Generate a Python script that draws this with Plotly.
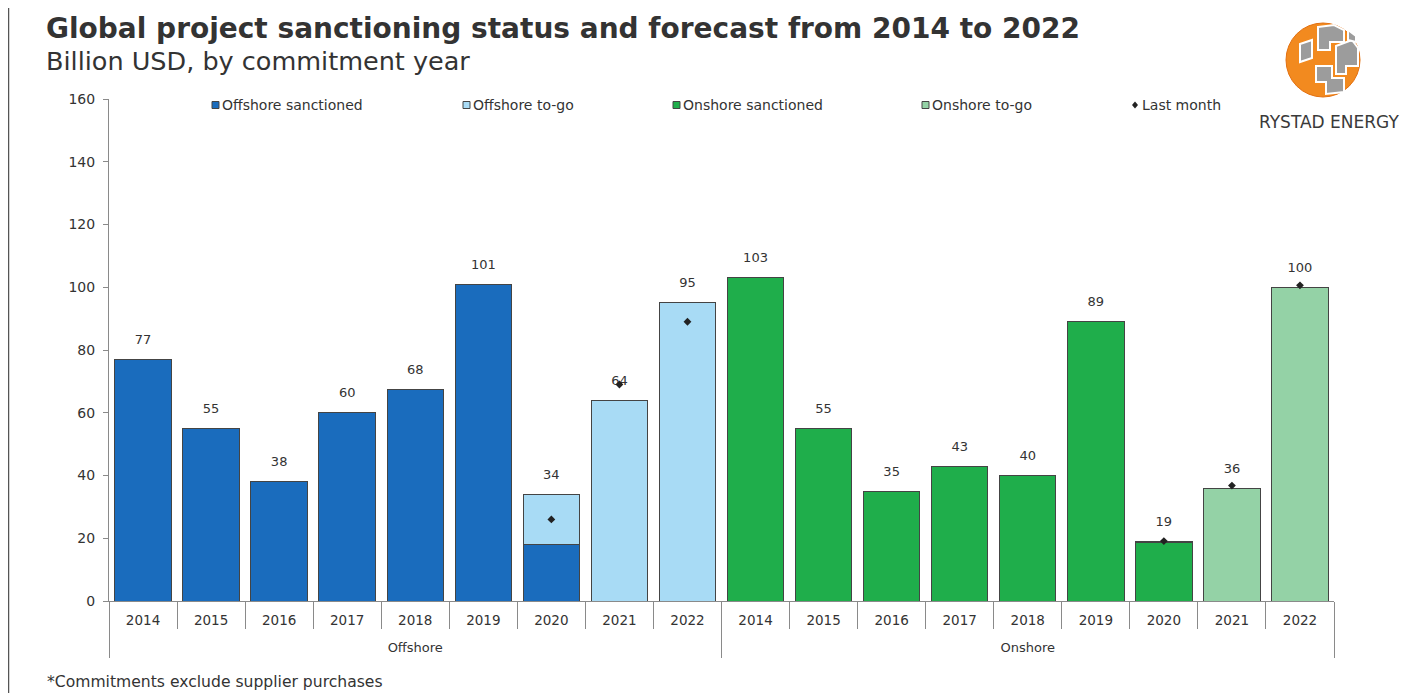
import plotly.graph_objects as go

# ---------------- data ----------------
years = ["2014", "2015", "2016", "2017", "2018", "2019", "2020", "2021", "2022"]
groups = ["Offshore", "Onshore"]
offshore_sanctioned = [77, 55, 38, 60, 67.5, 101, 18, None, None]
offshore_togo = [None, None, None, None, None, None, 16, 64, 95]
onshore_sanctioned = [103, 55, 35, 43, 40, 89, 18.5, None, None]
onshore_togo = [None, None, None, None, None, None, 0.6, 36, 100]
offshore_last_month = [None, None, None, None, None, None, 26, 69, 89]
onshore_last_month = [None, None, None, None, None, None, 19.1, 36.8, 100.6]
offshore_labels = ["77", "55", "38", "60", "68", "101", "34", "64", "95"]
onshore_labels = ["103", "55", "35", "43", "40", "89", "19", "36", "100"]
y_ticks = [0, 20, 40, 60, 80, 100, 120, 140, 160]

# ---------------- styles ----------------
C_OFF_S = "#1a6cbd"
C_OFF_T = "#a8dbf5"
C_ON_S = "#1fae4b"
C_ON_T = "#94d2a6"
OUTLINE = "#444444"
AXIS = "#8a8a8a"
TXT = "#333333"
FONT = "DejaVu Sans"

# page body has an 8px default margin; figure fills the rest of the 1416x693 window
OFF = 8
W, H = 1416 - OFF, 693 - OFF
# plot area in screen pixels: x 109..1334, y 99..601
SX0, SX1, SY0, SY1 = 109, 1334, 99, 601
L, R, T, B = SX0 - OFF, W - (SX1 - OFF), SY0 - OFF, H - (SY1 - OFF)
PW, PH = SX1 - SX0, SY1 - SY0


def px(x):
    return (x - SX0) / PW


def py(y):
    return (SY1 - y) / PH


def cats(group):
    return [f"{group} {y}" for y in years]


all_cats = cats(groups[0]) + cats(groups[1])


def tops(a, b):
    return [(p or 0) + (q or 0) for p, q in zip(a, b)]


fig = go.Figure()
line = dict(color=OUTLINE, width=1)

fig.add_trace(go.Bar(x=cats("Offshore"), y=offshore_sanctioned, name="Offshore sanctioned",
                     marker=dict(color=C_OFF_S, line=line)))
fig.add_trace(go.Bar(x=cats("Offshore"), y=offshore_togo, name="Offshore to-go",
                     marker=dict(color=C_OFF_T, line=line)))
fig.add_trace(go.Bar(x=cats("Onshore"), y=onshore_sanctioned, name="Onshore sanctioned",
                     marker=dict(color=C_ON_S, line=line)))
fig.add_trace(go.Bar(x=cats("Onshore"), y=onshore_togo, name="Onshore to-go",
                     marker=dict(color=C_ON_T, line=line)))

# total labels (invisible marker gives the offset above the bar)
for grp, a, b, lab in (("Offshore", offshore_sanctioned, offshore_togo, offshore_labels),
                       ("Onshore", onshore_sanctioned, onshore_togo, onshore_labels)):
    fig.add_trace(go.Scatter(x=cats(grp), y=tops(a, b), mode="markers+text", text=lab,
                             textposition="top center",
                             marker=dict(size=18, color="rgba(0,0,0,0)"),
                             textfont=dict(family=FONT, size=13, color=TXT),
                             showlegend=False, hoverinfo="skip", cliponaxis=False))

# last month markers
mk = dict(symbol="diamond", size=6, color="#222222")
fig.add_trace(go.Scatter(x=cats("Offshore"), y=offshore_last_month, mode="markers",
                         marker=mk, name="Last month", showlegend=False))
fig.add_trace(go.Scatter(x=cats("Onshore"), y=onshore_last_month, mode="markers",
                         marker=mk, name="Last month", showlegend=False))

# group axis carrier (invisible)
fig.add_trace(go.Scatter(x=groups, y=[0, 0], xaxis="x2", yaxis="y", mode="markers",
                         marker=dict(size=1, color="rgba(0,0,0,0)"), showlegend=False,
                         hoverinfo="skip"))

shapes = []
annotations = []

# custom legend
legend_items = [
    (212, "square", C_OFF_S, "Offshore sanctioned"),
    (463, "square", C_OFF_T, "Offshore to-go"),
    (673, "square", C_ON_S, "Onshore sanctioned"),
    (922, "square", C_ON_T, "Onshore to-go"),
    (1135, "diamond", "#222222", "Last month"),
]
LY = 105
for x0, kind, col, label in legend_items:
    if kind == "square":
        shapes.append(dict(type="rect", xref="paper", yref="paper",
                           x0=px(x0), x1=px(x0 + 7), y0=py(LY + 3.5), y1=py(LY - 3.5),
                           fillcolor=col, line=dict(color=OUTLINE, width=1)))
        tx = x0 + 8
    else:
        shapes.append(dict(type="path", xref="paper", yref="paper",
                           path=f"M {px(x0-3)} {py(LY)} L {px(x0)} {py(LY-3.5)} L {px(x0+3)} {py(LY)} L {px(x0)} {py(LY+3.5)} Z",
                           fillcolor=col, line=dict(color=col, width=0)))
        tx = x0 + 5
    annotations.append(dict(xref="paper", yref="paper", x=px(tx), y=py(LY), text=label,
                            showarrow=False, xanchor="left", yanchor="middle",
                            font=dict(family=FONT, size=14, color=TXT)))

# titles and footnote
annotations.append(dict(xref="paper", yref="paper", x=px(44), y=py(29),
                        text="<b>Global project sanctioning status and forecast from 2014 to 2022</b>",
                        showarrow=False, xanchor="left", yanchor="middle",
                        font=dict(family=FONT, size=28, color=TXT)))
annotations.append(dict(xref="paper", yref="paper", x=px(44), y=py(61),
                        text="Billion USD, by commitment year",
                        showarrow=False, xanchor="left", yanchor="middle",
                        font=dict(family=FONT, size=25.5, color=TXT)))
annotations.append(dict(xref="paper", yref="paper", x=px(45), y=py(682),
                        text="*Commitments exclude supplier purchases",
                        showarrow=False, xanchor="left", yanchor="middle",
                        font=dict(family=FONT, size=15.6, color=TXT)))

# logo
cx, cy, r = 1323, 60, 37
shapes.append(dict(type="circle", xref="paper", yref="paper",
                   x0=px(cx - r), x1=px(cx + r), y0=py(cy + r), y1=py(cy - r),
                   fillcolor="#f28a1f", line=dict(color="#e37010", width=1)))
gray_blocks = [
    "M 1318 27 L 1334 25 L 1344 30 L 1344 42 L 1330 42 L 1330 50 L 1318 50 Z",
    "M 1336 46 L 1352 40 L 1358 48 L 1358 66 L 1346 66 L 1346 74 L 1336 74 Z",
    "M 1300 44 L 1312 40 L 1312 58 L 1300 62 Z",
    "M 1316 66 L 1332 66 L 1332 78 L 1344 78 L 1344 92 L 1326 94 L 1326 82 L 1316 82 Z",
    "M 1348 30 L 1356 36 L 1356 42 L 1348 40 Z",
]


def pth(p):
    out = []
    toks = p.split()
    i = 0
    while i < len(toks):
        t = toks[i]
        if t in ("M", "L"):
            out.append(f"{t} {px(float(toks[i+1]))} {py(float(toks[i+2]))}")
            i += 3
        else:
            out.append(t)
            i += 1
    return " ".join(out)


for p in gray_blocks:
    shapes.append(dict(type="path", xref="paper", yref="paper", path=pth(p),
                       fillcolor="#9c9c9c", line=dict(color="white", width=2)))
annotations.append(dict(xref="paper", yref="paper", x=px(1329), y=py(122),
                        text="RYSTAD ENERGY", showarrow=False, xanchor="center",
                        yanchor="middle", font=dict(family=FONT, size=17, color="#3a3a3a")))

# frame lines
for xx in (OFF + 0.5, 1411):
    shapes.append(dict(type="line", xref="paper", yref="paper",
                       x0=px(xx), x1=px(xx), y0=py(0), y1=py(693),
                       line=dict(color="#555555", width=1.5)))

fig.update_layout(
    width=W, height=H,
    margin=dict(l=L, r=R, t=T, b=B, autoexpand=False),
    barmode="stack", bargap=0.17,
    plot_bgcolor="white", paper_bgcolor="white",
    showlegend=False,
    font=dict(family=FONT, size=13, color=TXT),
    shapes=shapes, annotations=annotations,
    xaxis=dict(type="category", categoryorder="array", categoryarray=all_cats,
               range=[-0.5, len(all_cats) - 0.5],
               tickmode="array", tickvals=all_cats, ticktext=years + years,
               tickson="boundaries", ticks="outside", ticklen=27, tickcolor=AXIS,
               showline=True, linecolor=AXIS, linewidth=1, ticklabelstandoff=7,
               tickfont=dict(family=FONT, size=13.5, color=TXT), showgrid=False,
               automargin=False),
    xaxis2=dict(type="category", overlaying="x", anchor="y", side="bottom",
                categoryorder="array", categoryarray=groups, range=[-0.5, 1.5],
                tickson="boundaries", ticks="outside", ticklen=56, tickcolor=AXIS,
                showline=False, ticklabelstandoff=37, showgrid=False,
                tickfont=dict(family=FONT, size=13, color=TXT), automargin=False),
    yaxis=dict(range=[0, 160], tickvals=y_ticks, showline=True, linecolor=AXIS,
               ticks="outside", ticklen=5, tickcolor=AXIS, showgrid=False,
               zeroline=False, ticklabelstandoff=5,
               tickfont=dict(family=FONT, size=14, color=TXT), automargin=False),
)

fig.write_html("out.html")
